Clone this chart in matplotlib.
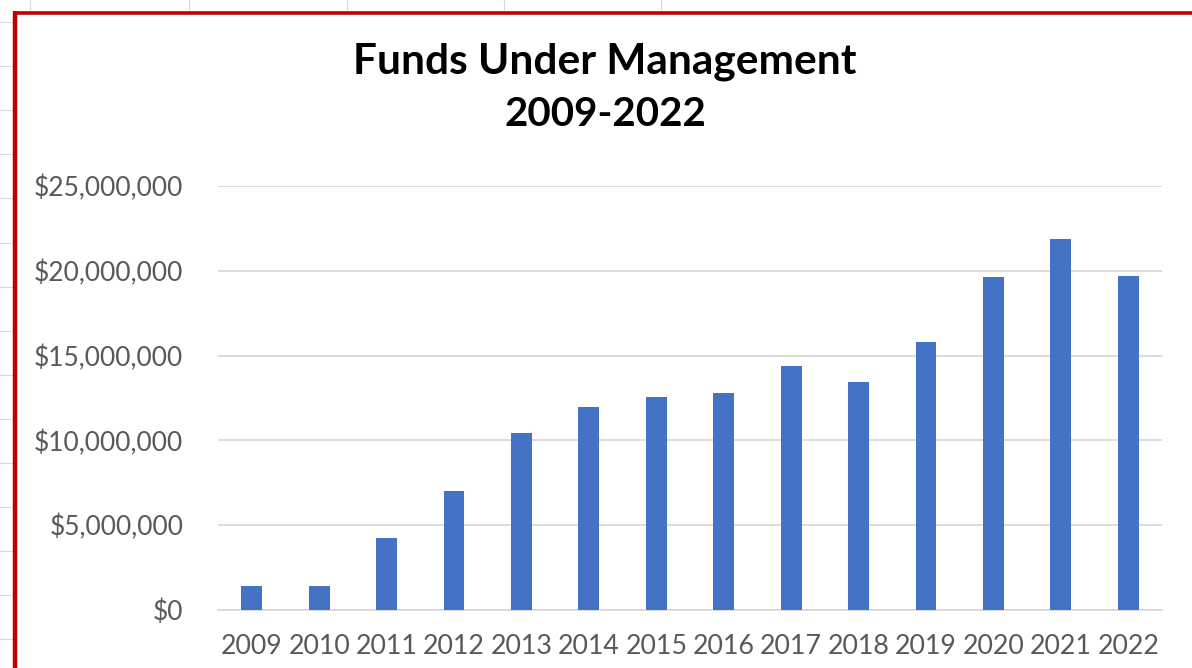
import matplotlib
matplotlib.use("Agg")
import matplotlib.pyplot as plt
from matplotlib.lines import Line2D
from matplotlib.ticker import FuncFormatter, MultipleLocator

years = ["2009", "2010", "2011", "2012", "2013", "2014", "2015", "2016",
         "2017", "2018", "2019", "2020", "2021", "2022"]
funds = [1.42e6, 1.42e6, 4.24e6, 7.02e6, 10.45e6, 11.97e6, 12.53e6, 12.78e6,
         14.38e6, 13.42e6, 15.8e6, 19.62e6, 21.9e6, 19.72e6]
title_lines = ["Funds Under Management", "2009-2022"]

W, H = 1192, 668
fig = plt.figure(figsize=(W / 100, H / 100), dpi=100)
fig.patch.set_facecolor("white")

def fx(px):
    return px / W

def fy(py):
    return 1 - py / H

# faint spreadsheet gridlines outside the chart border
for y in [22, 66, 110, 154, 198, 243, 287, 331, 375, 419, 463, 507, 551, 595, 639]:
    fig.add_artist(Line2D([0, fx(13)], [fy(y), fy(y)], color="#d8d8d8", lw=0.8))
for x in [30, 189, 347, 504, 661]:
    fig.add_artist(Line2D([fx(x), fx(x)], [1, fy(10)], color="#d8d8d8", lw=0.8))

# red border
fig.add_artist(Line2D([fx(15), fx(15)], [fy(11), 0], color="#c00000", lw=3.2,
                      solid_capstyle="butt"))
fig.add_artist(Line2D([fx(13), 1.0], [fy(12.5), fy(12.5)], color="#c00000", lw=2.6,
                      solid_capstyle="butt"))

ax = fig.add_axes([fx(218), fy(610), fx(1162) - fx(218), fy(186) - fy(610)])
x = list(range(len(years)))
ax.bar(x, funds, width=0.31, color="#4472c4", zorder=3)

ax.set_xlim(-0.5, len(years) - 0.5)
ax.set_ylim(0, 25e6)
ax.yaxis.set_major_locator(MultipleLocator(5e6))
ax.yaxis.set_major_formatter(FuncFormatter(lambda v, p: "${:,.0f}".format(v)))
ax.set_xticks(x)
ax.set_xticklabels(years)
ax.grid(axis="y", color="#d9d9d9", lw=1.3, zorder=0)
for s in ["top", "right", "left"]:
    ax.spines[s].set_visible(False)
ax.spines["bottom"].set_color("#d9d9d9")
ax.spines["bottom"].set_linewidth(1.3)
ax.tick_params(axis="y", length=0, labelcolor="#595959", labelsize=19, pad=25)
ax.tick_params(axis="x", length=0, labelcolor="#595959", labelsize=19.3, pad=17)
for lab in ax.get_xticklabels() + ax.get_yticklabels():
    lab.set_family("Lato")

fig.text(fx(605), fy(62), title_lines[0], ha="center", va="center",
         fontsize=30.5, fontweight="bold", family="Lato", color="#000000")
fig.text(fx(605), fy(115), title_lines[1], ha="center", va="center",
         fontsize=29, fontweight="bold", family="Lato", color="#000000")

fig.savefig("out.png", dpi=100, facecolor="white")
